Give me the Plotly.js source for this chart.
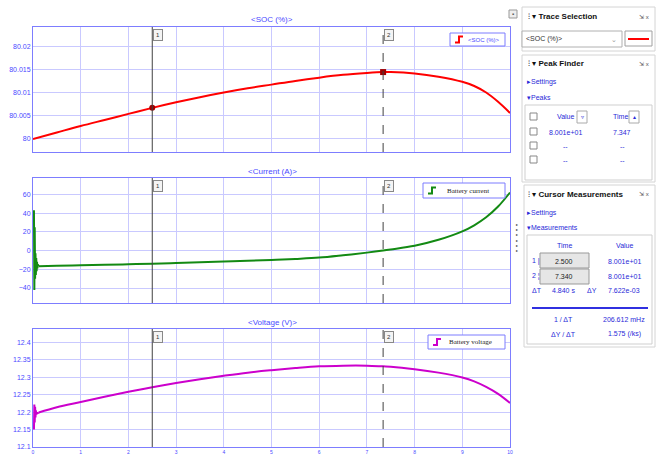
<!DOCTYPE html>
<html>
<head>
<meta charset="utf-8">
<script src="https://cdn.plot.ly/plotly-3.0.1.min.js"></script>
<style>html,body{margin:0;padding:0;background:#fff;}#chart{width:662px;height:455px;}</style>
</head>
<body>
<div id="chart"></div>
<script>
// ---------- data ----------
const socTime = [0,0.5,1,1.5,2,2.5,3,3.5,4,4.5,5,5.5,6,6.5,7,7.34,7.5,8,8.5,9,9.25,9.5,9.75,10];
const socVal  = [80.0000,80.0014,80.0028,80.0041,80.0054,80.0067,80.0079,80.0090,80.0100,80.0109,80.0117,80.0125,80.0132,80.0138,80.0142,80.0144,80.0144,80.0141,80.0134,80.0123,80.0114,80.0100,80.0080,80.0056];

// start-up transient samples
const curSpikeTime = [0.02,0.028,0.036,0.044,0.052,0.06,0.068,0.076,0.084,0.092,0.1,0.12];
const curSpikeVal  = [43,-42,25,-30,-3,-26,-8,-22,-12,-19,-15,-16.8];
// smooth part
const curTime = [0.12,0.5,1,1.5,2,2.5,3,3.5,4,4.5,5,5.5,6,6.5,7,7.34,7.5,8,8.5,9,9.25,9.5,9.75,10];
const curVal  = [-16.8,-16.3,-15.7,-15.2,-14.6,-14.0,-13.3,-12.6,-11.8,-11.0,-10.0,-8.9,-7.5,-5.0,-2.2,0,1.2,5.2,11.5,20.5,27,35.5,47,62];

const voltSpikeTime = [0.02,0.028,0.036,0.044,0.052,0.06,0.068,0.08,0.1,0.12];
const voltSpikeVal  = [12.15,12.222,12.17,12.215,12.185,12.205,12.193,12.198,12.197,12.199];
const voltTime = [0.12,0.5,1,1.5,2,2.5,3,3.5,4,4.5,5,5.5,6,6.5,7,7.34,7.5,8,8.5,9,9.25,9.5,9.75,10];
const voltVal  = [12.199,12.214,12.229,12.244,12.258,12.271,12.283,12.294,12.304,12.313,12.320,12.326,12.331,12.333,12.333,12.331,12.330,12.323,12.313,12.299,12.288,12.272,12.252,12.226];

const cursorTimes = [2.5, 7.34];
const cursorLabels = ['1','2'];
const cursorSoc = [80.0067, 80.0144];

const socTicks  = [80,80.005,80.01,80.015,80.02];
const socTickText = ['80','80.005','80.01','80.015','80.02'];
const curTicks  = [-40,-20,0,20,40,60];
const voltTicks = [12.1,12.15,12.2,12.25,12.3,12.35,12.4];
const voltTickText = ['12.1','12.15','12.2','12.25','12.3','12.35','12.4'];
const timeTicks = [0,1,2,3,4,5,6,7,8,9,10];

const plotTitles = ['&lt;SOC (%)&gt;','&lt;Current (A)&gt;','&lt;Voltage (V)&gt;'];
const legendNames = ['&lt;SOC (%)&gt;','Battery current','Battery voltage'];

// ---------- helpers ----------
const W = 662, H = 455;
const px = x => x / W;
const py = y => 1 - y / H;
const FONT = 'Liberation Sans Narrow, Liberation Sans, Arial, sans-serif';
const BLUE = '#4a4aff';
const GRID = '#c9c9ff';
const FRAME = '#7d7dff';
const colors = ['#ff0000', '#138a13', '#cc00cc'];

const plotBox = [ [27,152], [178,303], [329,447] ];
const xDom = [px(33), px(510)];

const traces = [
  {x: socTime, y: socVal, xaxis:'x', yaxis:'y', mode:'lines', line:{color:colors[0], width:2, shape:'spline'}, hoverinfo:'skip'},
  {x: curSpikeTime, y: curSpikeVal, xaxis:'x2', yaxis:'y2', mode:'lines', line:{color:colors[1], width:2}, hoverinfo:'skip'},
  {x: curTime, y: curVal, xaxis:'x2', yaxis:'y2', mode:'lines', line:{color:colors[1], width:2, shape:'spline'}, hoverinfo:'skip'},
  {x: voltSpikeTime, y: voltSpikeVal, xaxis:'x3', yaxis:'y3', mode:'lines', line:{color:colors[2], width:2}, hoverinfo:'skip'},
  {x: voltTime, y: voltVal, xaxis:'x3', yaxis:'y3', mode:'lines', line:{color:colors[2], width:2, shape:'spline'}, hoverinfo:'skip'},
  {x: [cursorTimes[0]], y: [cursorSoc[0]], xaxis:'x', yaxis:'y', mode:'markers', marker:{color:'#a00000', size:6, symbol:'circle'}, hoverinfo:'skip'},
  {x: [cursorTimes[1]], y: [cursorSoc[1]], xaxis:'x', yaxis:'y', mode:'markers', marker:{color:'#a00000', size:6, symbol:'square'}, hoverinfo:'skip'}
];

function xax(anchor, showLabels) {
  return {domain: xDom, anchor: anchor, range:[0,10], tickvals: timeTicks, showgrid:true, gridcolor:GRID, gridwidth:1,
    showline:true, linecolor:FRAME, linewidth:1, mirror:true, zeroline:false, ticks:'',
    showticklabels: showLabels, tickfont:{family:FONT, size:5, color:BLUE}, fixedrange:true};
}
function yax(idx, range, tickvals, ticktext) {
  const b = plotBox[idx];
  const o = {domain:[py(b[1]), py(b[0])], anchor: idx===0?'x':'x'+(idx+1), range: range, tickvals: tickvals,
    showgrid:true, gridcolor:GRID, gridwidth:1, showline:true, linecolor:FRAME, linewidth:1, mirror:true,
    zeroline:false, ticks:'', tickfont:{family:FONT, size:7, color:BLUE}, fixedrange:true};
  if (ticktext) o.ticktext = ticktext;
  return o;
}

const shapes = [];
const annotations = [];

// subplot titles
[20, 171, 322].forEach((y, i) => {
  annotations.push({xref:'paper', yref:'paper', x:px(272), y:py(y), text:plotTitles[i], showarrow:false,
    font:{family:FONT, size:8, color:BLUE}, xanchor:'center', yanchor:'middle'});
});

// cursors on every subplot
['', '2', '3'].forEach((s, i) => {
  cursorTimes.forEach((t, k) => {
    shapes.push({type:'line', xref:'x'+s, yref:'y'+s+' domain', x0:t, x1:t, y0:0, y1:1,
      line:{color:'#404040', width:1, dash: k===0 ? 'solid' : 'dash'}});
    annotations.push({xref:'x'+s, yref:'paper', x:t, y:py(plotBox[i][0]+2), text:cursorLabels[k], showarrow:false,
      xanchor:'left', yanchor:'top', xshift:1, font:{family:FONT, size:6, color:'#333'},
      bgcolor:'#f4f4f4', bordercolor:'#888', borderwidth:1, borderpad:2});
  });
});

// legend boxes inside the plots
const legBoxes = [ {x0:450,x1:505,y0:33,y1:46,tx:484}, {x0:423,x1:505,y0:183,y1:198,tx:468}, {x0:428,x1:505,y0:335,y1:349,tx:470} ];
legBoxes.forEach((b, i) => {
  shapes.push({type:'rect', xref:'paper', yref:'paper', x0:px(b.x0), x1:px(b.x1), y0:py(b.y1), y1:py(b.y0),
    line:{color:FRAME, width:1}, fillcolor:'#ffffff'});
  const ix = b.x0 + 5, ym = (b.y0 + b.y1) / 2;
  shapes.push({type:'path', xref:'paper', yref:'paper',
    path:`M ${px(ix)} ${py(ym+3)} L ${px(ix+4)} ${py(ym+3)} L ${px(ix+4)} ${py(ym-3)} L ${px(ix+8)} ${py(ym-3)}`,
    line:{color:colors[i], width:2}});
  annotations.push({xref:'paper', yref:'paper', x:px(b.tx), y:py(ym), text:legendNames[i], showarrow:false,
    xanchor:'center', yanchor:'middle',
    font: i===0 ? {family:FONT, size:6, color:BLUE} : {family:'Liberation Serif, DejaVu Serif, serif', size:7, color:'#222'}});
});

// ---------- right side panels ----------
function rectP(x0, y0, x1, y1, line, fill, w) {
  shapes.push({type:'rect', xref:'paper', yref:'paper', x0:px(x0), x1:px(x1), y0:py(y1), y1:py(y0),
    line:{color:line, width:w===undefined?1:w}, fillcolor:fill||'rgba(0,0,0,0)'});
}
function txt(x, y, t, opts) {
  opts = opts || {};
  annotations.push({xref:'paper', yref:'paper', x:px(x), y:py(y), text:t, showarrow:false,
    xanchor:opts.anchor||'left', yanchor:'middle',
    font:{family:FONT, size:opts.size||7, color:opts.color||'#222'}});
}
const TB = '#2a2ad8';

// dock button
rectP(509, 10, 517, 18, '#999', '#eee');
txt(513, 14, '▪', {anchor:'center', size:6, color:'#555'});
// side dots
txt(517, 237, '▸<br>▸<br>▸<br>▸<br>▸<br>▸', {anchor:'center', size:4, color:'#333'});

// Trace Selection
rectP(522, 7, 655, 51, '#d4d4d4');
txt(526, 17, '⁝ ▾ <b>Trace Selection</b>', {size:8, color:'#111'});
txt(651, 17, '⇲ x', {anchor:'right', size:6, color:'#555'});
rectP(522, 31, 622, 47, '#b0b0b0', '#fff');
txt(524, 39, '&lt;SOC (%)&gt;', {size:7, color:'#333'});
txt(614, 39, '⌄', {anchor:'center', size:7, color:'#999'});
rectP(625, 31, 652, 46, '#a0a0a0', '#fff');
shapes.push({type:'line', xref:'paper', yref:'paper', x0:px(628), x1:px(649), y0:py(39), y1:py(39), line:{color:'#ff0000', width:2}});

// Peak Finder
rectP(522, 55, 655, 182, '#d4d4d4');
txt(526, 64, '⁝ ▾ <b>Peak Finder</b>', {size:8, color:'#111'});
txt(651, 64, '⇲ x', {anchor:'right', size:6, color:'#555'});
txt(525, 82, '▸Settings', {size:7, color:TB});
txt(525, 97, '▾Peaks', {size:7, color:TB});
rectP(525, 105, 652, 180, '#cfcfcf', '#fff');
[117, 132, 146, 160].forEach(y => rectP(530, y-4, 537, y+3, '#888', '#fff'));
txt(565, 117, 'Value', {anchor:'center', size:7, color:TB});
rectP(577, 111, 587, 123, '#aaa', '#fff');
txt(582, 117, '▿', {anchor:'center', size:6, color:TB});
txt(620, 117, 'Time', {anchor:'center', size:7, color:TB});
rectP(629, 111, 639, 123, '#aaa', '#fff');
txt(634, 117, '▴', {anchor:'center', size:6, color:TB});
txt(565, 132, '8.001e+01', {anchor:'center', size:7, color:TB});
txt(622, 132, '7.347', {anchor:'center', size:7, color:TB});
txt(565, 146, '--', {anchor:'center', size:7, color:TB});
txt(622, 146, '--', {anchor:'center', size:7, color:TB});
txt(565, 160, '--', {anchor:'center', size:7, color:TB});
txt(622, 160, '--', {anchor:'center', size:7, color:TB});

// Cursor Measurements
rectP(524, 185, 655, 347, '#d4d4d4');
txt(526, 194, '⁝ ▾ <b>Cursor Measurements</b>', {size:8, color:'#111'});
txt(651, 194, '⇲ x', {anchor:'right', size:6, color:'#555'});
txt(525, 213, '▸Settings', {size:7, color:TB});
txt(525, 227, '▾Measurements', {size:7, color:TB});
rectP(527, 235, 652, 344, '#cfcfcf', '#fff');
txt(564, 246, 'Time', {anchor:'center', size:7, color:TB});
txt(624, 246, 'Value', {anchor:'center', size:7, color:TB});
rectP(540, 253, 589, 268, '#999', '#e6e6e6');
rectP(540, 269, 589, 284, '#999', '#e6e6e6');
txt(530, 261, '1 |', {size:7, color:TB});
txt(530, 276, '2 ¦', {size:7, color:TB});
txt(564, 261, '2.500', {anchor:'center', size:7, color:'#222'});
txt(564, 276, '7.340', {anchor:'center', size:7, color:'#222'});
txt(624, 261, '8.001e+01', {anchor:'center', size:7, color:TB});
txt(624, 276, '8.001e+01', {anchor:'center', size:7, color:TB});
txt(530, 290, 'ΔT', {size:7, color:TB});
txt(563, 290, '4.840 s', {anchor:'center', size:7, color:TB});
txt(592, 290, 'ΔY', {anchor:'center', size:7, color:TB});
txt(624, 290, '7.622e-03', {anchor:'center', size:7, color:TB});
shapes.push({type:'line', xref:'paper', yref:'paper', x0:px(532), x1:px(648), y0:py(308), y1:py(308), line:{color:'#3030e0', width:2}});
txt(563, 319, '1 / ΔT', {anchor:'center', size:7, color:TB});
txt(624, 319, '206.612 mHz', {anchor:'center', size:7, color:TB});
txt(563, 334, 'ΔY / ΔT', {anchor:'center', size:7, color:TB});
txt(624, 334, '1.575 (/ks)', {anchor:'center', size:7, color:TB});

const layout = {
  width: W, height: H, autosize:false,
  margin:{l:0, r:0, t:0, b:0, pad:0},
  paper_bgcolor:'#ffffff', plot_bgcolor:'#ffffff',
  showlegend:false,
  font:{family:FONT},
  xaxis: xax('y', false),
  xaxis2: xax('y2', false),
  xaxis3: xax('y3', true),
  yaxis: yax(0, [79.9972, 80.0241], socTicks, socTickText),
  yaxis2: yax(1, [-56, 77.5], curTicks),
  yaxis3: yax(2, [12.1, 12.438], voltTicks, voltTickText),
  shapes: shapes,
  annotations: annotations
};

Plotly.newPlot('chart', traces, layout, {displayModeBar:false, staticPlot:true});
</script>
</body>
</html>
